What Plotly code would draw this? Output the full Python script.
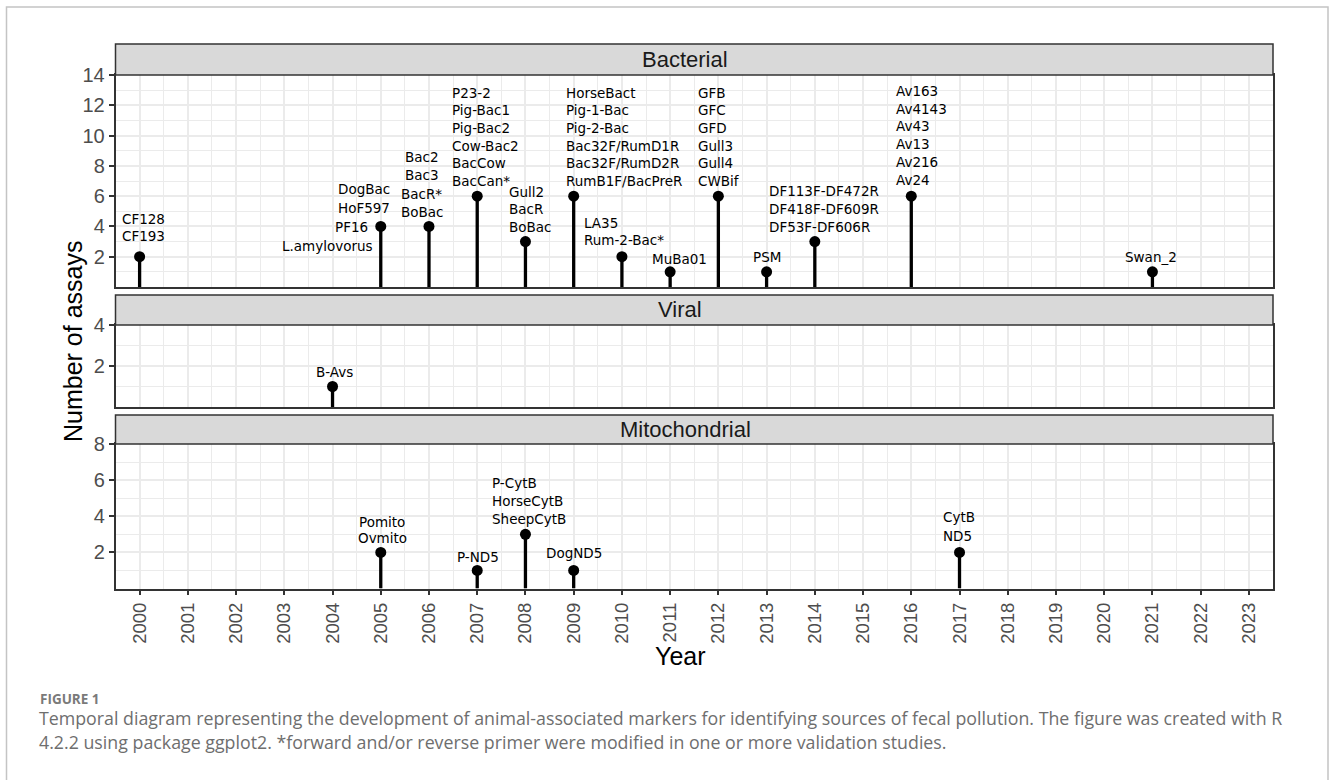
import plotly.graph_objects as go

# ---------------- data ----------------
bact_years = [2000, 2005, 2006, 2007, 2008, 2009, 2010, 2011, 2012, 2013, 2014, 2016, 2021]
bact_counts = [2, 4, 4, 6, 3, 6, 2, 1, 6, 1, 3, 6, 1]
bact_labels = [
    ["CF128", "CF193"],
    ["DogBac", "HoF597", "PF16", "L.amylovorus"],
    ["Bac2", "Bac3", "BacR*", "BoBac"],
    ["P23-2", "Pig-Bac1", "Pig-Bac2", "Cow-Bac2", "BacCow", "BacCan*"],
    ["Gull2", "BacR", "BoBac"],
    ["HorseBact", "Pig-1-Bac", "Pig-2-Bac", "Bac32F/RumD1R", "Bac32F/RumD2R", "RumB1F/BacPreR"],
    ["LA35", "Rum-2-Bac*"],
    ["MuBa01"],
    ["GFB", "GFC", "GFD", "Gull3", "Gull4", "CWBif"],
    ["PSM"],
    ["DF113F-DF472R", "DF418F-DF609R", "DF53F-DF606R"],
    ["Av163", "Av4143", "Av43", "Av13", "Av216", "Av24"],
    ["Swan_2"],
]

viral_years = [2004]
viral_counts = [1]
viral_labels = [["B-Avs"]]

mito_years = [2005, 2007, 2008, 2009, 2017]
mito_counts = [2, 1, 3, 1, 2]
mito_labels = [
    ["Pomito", "Ovmito"],
    ["P-ND5"],
    ["P-CytB", "HorseCytB", "SheepCytB"],
    ["DogND5"],
    ["CytB", "ND5"],
]

year_ticks = list(range(2000, 2024))
panel_names = ["Bacterial", "Viral", "Mitochondrial"]

# ---------------- label placement (styles, pixels relative to point) ----------------
# anchor, dx (scalar or per-line list), dy of top line centre above point, line gap
bact_place = {
    2000: ("center", 3.5, 38, 17),
    2005: ("right", [9, 9, -13, -8], 37.5, 19),
    2006: ("center", -7, 69.5, 18.3),
    2007: ("left", -25.5, 103.3, 17.6),
    2008: ("left", -16, 49.6, 17.5),
    2009: ("left", -8, 103.3, 17.6),
    2010: ("left", -38, 33.7, 17),
    2011: ("center", 9.5, 13, 17),
    2012: ("left", -20, 103.3, 17.6),
    2013: ("center", 0, 15, 17),
    2014: ("left", -46, 50.6, 18),
    2016: ("left", -15, 105.3, 17.8),
    2021: ("center", -1, 15, 17),
}
viral_place = {2004: ("center", 2, 15, 17)}
mito_place = {
    2005: ("center", 1.5, 30, 16),
    2007: ("center", 1, 13.7, 17),
    2008: ("left", -33.6, 51.5, 18),
    2009: ("center", 0, 17.7, 17),
    2017: ("left", -17, 35, 19),
}

W, H = 1330, 780
def px(v):
    return v / W
def py(v):
    return 1 - v / H

x_dom = [px(115.5), px(1273)]
panels = [
    dict(top=75, bot=287, strip=44, ymax=14, ticks=[2, 4, 6, 8, 10, 12, 14], text_x=684.5),
    dict(top=325, bot=407, strip=295, ymax=4, ticks=[2, 4], text_x=679.5),
    dict(top=444, bot=588.5, strip=415, ymax=8, ticks=[2, 4, 6, 8], text_x=685),
]

fig = go.Figure()
datasets = [
    (bact_years, bact_counts, bact_labels, bact_place),
    (viral_years, viral_counts, viral_labels, viral_place),
    (mito_years, mito_counts, mito_labels, mito_place),
]

annotations = []
shapes = []
grid_col = "#EBEBEB"
dark = "#333333"
tick_font = dict(family="Liberation Sans, Arial, sans-serif", size=20, color="#4D4D4D")
lab_font = dict(family="DejaVu Sans, sans-serif", size=13.5, color="black")

for i, (yrs, cnts, labs, place) in enumerate(datasets):
    k = "" if i == 0 else str(i + 1)
    xa, ya = "x" + k, "y" + k
    sx, sy = [], []
    for yr, c in zip(yrs, cnts):
        sx += [yr, yr, None]
        sy += [0, c, None]
    fig.add_trace(go.Scatter(x=sx, y=sy, mode="lines", line=dict(color="black", width=3.3),
                             xaxis=xa, yaxis=ya, hoverinfo="skip", showlegend=False))
    fig.add_trace(go.Scatter(x=yrs, y=cnts, mode="markers", marker=dict(color="black", size=11),
                             xaxis=xa, yaxis=ya, showlegend=False, cliponaxis=False))
    for yr, c, lines in zip(yrs, cnts, labs):
        anchor, dx, dytop, gap = place[yr]
        for j, t in enumerate(lines):
            d = dx[j] if isinstance(dx, list) else dx
            if anchor == "left":
                d -= 2
            elif anchor == "right":
                d += 2
            annotations.append(dict(x=yr, y=c, xref=xa, yref=ya, text=t, showarrow=False,
                                    xanchor=anchor, yanchor="middle", xshift=d,
                                    yshift=dytop - j * gap, font=lab_font, align=anchor))
    p = panels[i]
    xax = dict(
        domain=x_dom, anchor=ya, range=[1999.5, 2023.5], tickvals=year_ticks,
        showticklabels=(i == 2), ticks="outside" if i == 2 else "", ticklen=5,
        tickcolor=dark, tickwidth=1.5, tickangle=-90, tickfont=dict(tick_font, size=18.5),
        showgrid=True, gridcolor=grid_col, gridwidth=1.6,
        minor=dict(tick0=1999.5, dtick=1, showgrid=True, gridcolor=grid_col, gridwidth=0.9),
        showline=True, mirror=True, linecolor=dark, linewidth=1.5, zeroline=False,
        automargin=False,
    )
    if i == 2:
        xax["ticktext"] = [str(y) for y in year_ticks]
    if i > 0:
        xax["matches"] = "x"
    fig.layout["xaxis" + k] = xax
    fig.layout["yaxis" + k] = dict(
        domain=[py(p["bot"]), py(p["top"])], anchor=xa, range=[0, p["ymax"]],
        tickvals=p["ticks"], ticks="outside", ticklen=5, tickcolor=dark, tickwidth=1.5,
        tickfont=tick_font, showgrid=True, gridcolor=grid_col, gridwidth=1.6,
        minor=dict(tick0=1, dtick=2, showgrid=True, gridcolor=grid_col, gridwidth=0.9),
        showline=True, mirror=True, linecolor=dark, linewidth=1.5, zeroline=False,
        automargin=False,
    )
    shapes.append(dict(type="rect", xref="paper", yref="paper", x0=x_dom[0], x1=x_dom[1],
                       y0=py(p["top"]), y1=py(p["strip"]), fillcolor="#D9D9D9",
                       line=dict(color=dark, width=1.5), layer="above"))
    annotations.append(dict(x=px(p["text_x"]), y=py((p["top"] + p["strip"]) / 2), xref="paper",
                            yref="paper", text=panel_names[i], showarrow=False,
                            xanchor="center", yanchor="middle",
                            font=dict(family="Liberation Sans, Arial, sans-serif", size=22,
                                      color="#1A1A1A")))

# outer frame
shapes.append(dict(type="rect", xref="paper", yref="paper", x0=px(6.5), x1=px(1328),
                   y0=py(800), y1=py(7), line=dict(color="#C4C4C4", width=1.5),
                   fillcolor="rgba(0,0,0,0)", layer="below"))

title_font = dict(family="Liberation Sans, Arial, sans-serif", size=25, color="black")
annotations.append(dict(x=px(680.5), y=py(656), xref="paper", yref="paper", text="Year",
                        showarrow=False, xanchor="center", yanchor="middle", font=title_font))
annotations.append(dict(x=px(72.5), y=py(341.5), xref="paper", yref="paper",
                        text="Number of assays", textangle=-90, showarrow=False,
                        xanchor="center", yanchor="middle", font=title_font))

cap_font = dict(family="Open Sans, Noto Sans, sans-serif", size=17.8, color="#6E6E6E")
annotations.append(dict(x=px(38), y=py(699), xref="paper", yref="paper", text="<b>FIGURE 1</b>",
                        showarrow=False, xanchor="left", yanchor="middle",
                        font=dict(family="Open Sans, Noto Sans, sans-serif", size=13.5,
                                  color="#7A7A7A")))
annotations.append(dict(x=px(37), y=py(718), xref="paper", yref="paper",
                        text="Temporal diagram representing the development of animal-associated markers for identifying sources of fecal pollution. The figure was created with R",
                        showarrow=False, xanchor="left", yanchor="middle", font=cap_font))
annotations.append(dict(x=px(37), y=py(742), xref="paper", yref="paper",
                        text="4.2.2 using package ggplot2. *forward and/or reverse primer were modified in one or more validation studies.",
                        showarrow=False, xanchor="left", yanchor="middle", font=cap_font))

fig.update_layout(width=W, height=H, margin=dict(l=0, r=0, t=0, b=0, autoexpand=False),
                  paper_bgcolor="white", plot_bgcolor="white",
                  annotations=annotations, shapes=shapes, showlegend=False)

fig.write_html("out.html", config={"displayModeBar": False},
               post_script="document.body.style.margin='0px';")
